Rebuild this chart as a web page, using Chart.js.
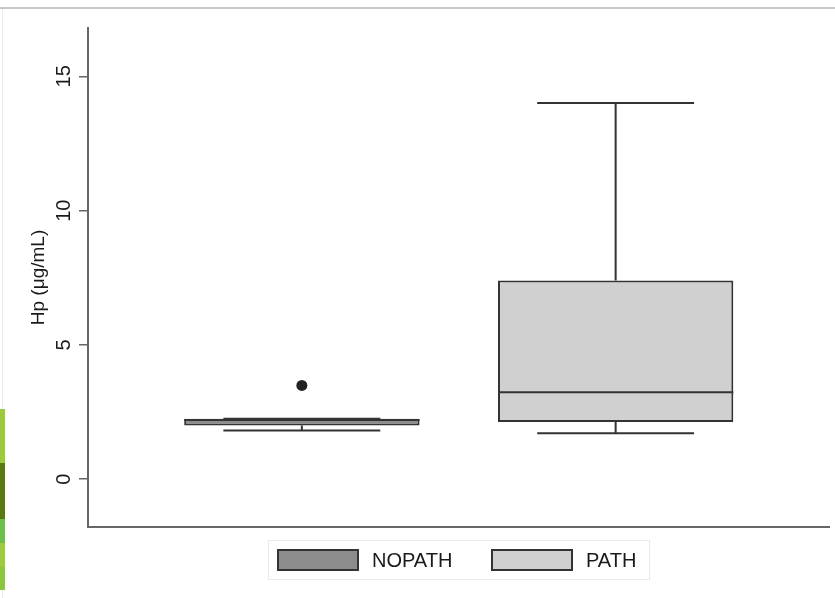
<!DOCTYPE html>
<html>
<head>
<meta charset="utf-8">
<script src="https://cdn.jsdelivr.net/npm/chart.js@4.4.1/dist/chart.umd.min.js"></script>
<style>
  html, body { margin: 0; padding: 0; background: #fff; }
  #wrap { position: relative; width: 835px; height: 598px; overflow: hidden; }
  #topline { position: absolute; left: 0; top: 7px; width: 835px; height: 2px; background: #c6c6c6; }
  #leftline { position: absolute; left: 2px; top: 9px; width: 1px; height: 589px; background: #ececec; }
  .strip { position: absolute; left: 0; width: 5px; }
  canvas { position: absolute; left: 0; top: 0; }
  #legend {
    position: absolute; left: 268px; top: 540px; width: 382px; height: 40px;
    border: 1px solid #e6ecec; box-sizing: border-box;
    font-family: "Liberation Sans", Arial, sans-serif; font-size: 20px; color: #1a1a1a;
  }
  .swatch { position: absolute; top: 8px; width: 82px; height: 22px; border: 2px solid #333; box-sizing: border-box; }
  .lbl { position: absolute; top: 7px; line-height: 24px; }
</style>
</head>
<body>
<div id="wrap">
  <div id="topline"></div>
  <div id="leftline"></div>
  <div class="strip" style="top:409px;height:54px;background:#9dca3a"></div>
  <div class="strip" style="top:463px;height:56px;background:#5a7a10"></div>
  <div class="strip" style="top:519px;height:24px;background:#6cc04a"></div>
  <div class="strip" style="top:543px;height:24px;background:#9ccb3b"></div>
  <div class="strip" style="top:567px;height:23px;background:#8cc63f"></div>
  <canvas id="boxChart" width="835" height="598"></canvas>
  <div id="legend"></div>
</div>
<script>
// DATA
const groups = ["NOPATH", "PATH"];
const q1 = [2.0, 2.13];
const medians = [2.2, 3.24];
const q3 = [2.25, 7.40];
const whiskerLow = [1.81, 1.71];
const whiskerHigh = [2.25, 14.01];
const outliers = [[3.49], []];
const yTicks = [0, 5, 10, 15];
const yTitle = "Hp (\u03bcg/mL)";

// STYLE
const fills = ["#8c8c8c", "#d0d0d0"];
const lineColor = "#333";
const axisColor = "#666";
const textColor = "#1a1a1a";
const boxWidth = 0.75;   // in x units
const capWidth = 0.5;

Chart.defaults.font.family = '"Liberation Sans", Arial, sans-serif';

// whiskers, caps, medians + rotated tick labels
const boxParts = {
  id: "boxParts",
  afterDatasetsDraw(chart) {
    const { ctx, scales: { x, y } } = chart;
    ctx.save();
    ctx.strokeStyle = lineColor;
    ctx.lineWidth = 2;
    groups.forEach((g, i) => {
      const cx = x.getPixelForValue(i + 1);
      const capHalf = x.getPixelForValue(i + 1 + capWidth / 2) - cx;
      const boxHalf = x.getPixelForValue(i + 1 + boxWidth / 2) - cx;
      ctx.beginPath();
      // upper whisker
      ctx.moveTo(cx, y.getPixelForValue(q3[i]));
      ctx.lineTo(cx, y.getPixelForValue(whiskerHigh[i]));
      ctx.moveTo(cx - capHalf, y.getPixelForValue(whiskerHigh[i]));
      ctx.lineTo(cx + capHalf, y.getPixelForValue(whiskerHigh[i]));
      // lower whisker
      ctx.moveTo(cx, y.getPixelForValue(q1[i]));
      ctx.lineTo(cx, y.getPixelForValue(whiskerLow[i]));
      ctx.moveTo(cx - capHalf, y.getPixelForValue(whiskerLow[i]));
      ctx.lineTo(cx + capHalf, y.getPixelForValue(whiskerLow[i]));
      // median
      ctx.moveTo(cx - boxHalf, y.getPixelForValue(medians[i]));
      ctx.lineTo(cx + boxHalf, y.getPixelForValue(medians[i]));
      ctx.stroke();
    });
    ctx.restore();
  },
  afterDraw(chart) {
    const { ctx, scales: { y } } = chart;
    ctx.save();
    ctx.fillStyle = textColor;
    ctx.font = '20px "Liberation Sans", Arial, sans-serif';
    ctx.textAlign = "center";
    ctx.textBaseline = "middle";
    y.ticks.forEach(t => {
      ctx.save();
      ctx.translate(64, y.getPixelForValue(t.value));
      ctx.rotate(-Math.PI / 2);
      ctx.fillText(String(t.value), 0, 0);
      ctx.restore();
    });
    ctx.restore();
  }
};

new Chart(document.getElementById("boxChart"), {
  data: {
    datasets: [
      {
        type: "bar",
        data: groups.map((g, i) => ({ x: i + 1, y: [q1[i], q3[i]] })),
        backgroundColor: fills,
        borderColor: lineColor,
        borderWidth: 2,
        borderSkipped: false,
        categoryPercentage: 1,
        barPercentage: boxWidth
      },
      {
        type: "scatter",
        data: outliers.flatMap((vals, i) => vals.map(v => ({ x: i + 1, y: v }))),
        pointRadius: 5.5,
        pointBackgroundColor: "#222",
        pointBorderWidth: 0
      }
    ]
  },
  options: {
    responsive: false,
    animation: false,
    layout: { padding: { left: 0, top: 28, right: 5, bottom: 71 } },
    plugins: { legend: { display: false }, tooltip: { enabled: false } },
    scales: {
      x: {
        type: "linear",
        min: 0.3185,
        max: 2.6815,
        offset: false,
        afterBuildTicks: s => { s.ticks = groups.map((g, i) => ({ value: i + 1 })); },
        afterFit: s => { s.height = 0; },
        grid: { display: false, offset: false },
        ticks: { display: false },
        border: { display: true, color: axisColor, width: 2 }
      },
      y: {
        type: "linear",
        min: -1.78,
        max: 16.8,
        afterBuildTicks: s => { s.ticks = yTicks.map(v => ({ value: v })); },
        afterFit: s => { s.width = 88; },
        ticks: { display: false },
        grid: { display: true, drawOnChartArea: false, drawTicks: true, tickLength: 9, color: axisColor, lineWidth: 1.5 },
        border: { display: true, color: axisColor, width: 2 },
        title: {
          display: true,
          text: yTitle,
          color: textColor,
          font: { size: 19 },
          padding: { top: 27, bottom: 0 }
        }
      }
    }
  },
  plugins: [boxParts]
});

// legend from the same arrays
const legend = document.getElementById("legend");
groups.forEach((g, i) => {
  const sw = document.createElement("div");
  sw.className = "swatch";
  sw.style.left = (8 + i * 214) + "px";
  sw.style.background = fills[i];
  legend.appendChild(sw);
  const lb = document.createElement("div");
  lb.className = "lbl";
  lb.style.left = (103 + i * 214) + "px";
  lb.textContent = g;
  legend.appendChild(lb);
});
</script>
</body>
</html>
